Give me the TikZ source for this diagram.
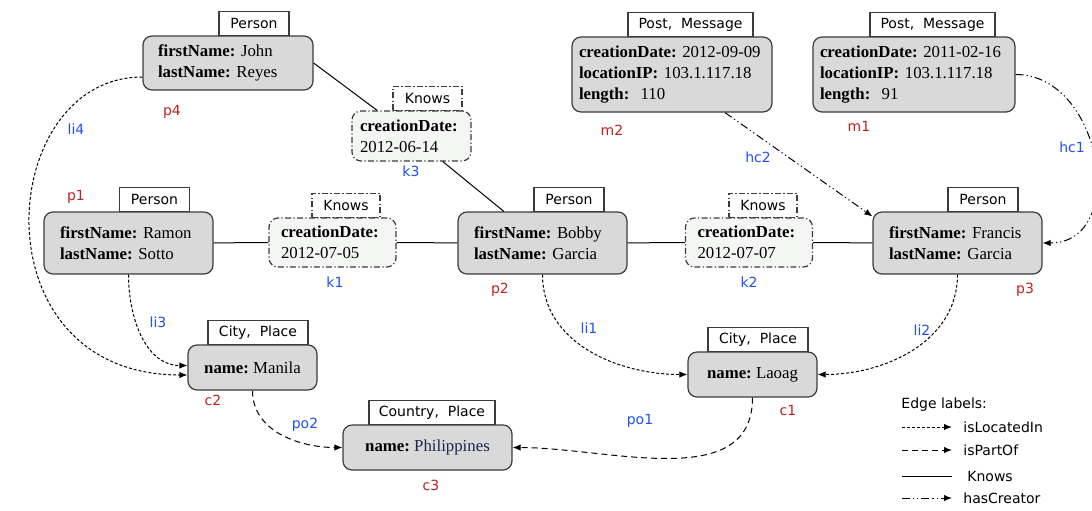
\documentclass[tikz,border=0pt]{standalone}
\usepackage{fontspec}
\setmainfont{Liberation Serif}
\newfontfamily\tagfont{DejaVu Sans}
\usepackage{tikz}
\usetikzlibrary{arrows.meta,calc}
\frenchspacing
\definecolor{box-gray}{RGB}{217,217,217}
\definecolor{box-line}{RGB}{60,60,60}
\definecolor{knows-fill}{RGB}{244,246,244}
\definecolor{id-red}{RGB}{190,32,32}
\definecolor{id-blue}{RGB}{32,80,240}
\definecolor{navy-text}{RGB}{30,35,80}
\tikzstyle{entity}=[draw=box-line, fill=box-gray, rounded corners=4.5pt, line width=.6pt, font=\fontsize{8.4}{10.5}\selectfont, align=left, inner ysep=0pt]
\tikzstyle{relation}=[entity, fill=knows-fill, dash pattern=on 3pt off 1.2pt on .6pt off 1.2pt]
\tikzstyle{place}=[entity, align=center, minimum width=64.5pt, minimum height=22.5pt]
\tikzstyle{tagbox}=[draw=box-line, fill=white, line width=.6pt, font=\tagfont\fontsize{7}{8}\selectfont, minimum height=12pt, inner sep=0pt, anchor=south]
\tikzstyle{reltag}=[tagbox, dash pattern=on 3pt off 1.2pt on .6pt off 1.2pt]
\tikzstyle{idred}=[text=id-red, font=\tagfont\fontsize{7}{8}\selectfont]
\tikzstyle{idblue}=[text=id-blue, font=\tagfont\fontsize{7}{8}\selectfont]
\tikzstyle{legendtext}=[font=\tagfont\fontsize{7}{8}\selectfont, anchor=west, inner sep=0pt]
\tikzstyle{located}=[-{Latex[length=4pt,width=3.2pt]}, dash pattern=on 1.5pt off 1pt, line width=.5pt]
\tikzstyle{partof}=[-{Latex[length=4pt,width=3.2pt]}, dash pattern=on 3pt off 2pt, line width=.5pt]
\tikzstyle{knows}=[line width=.5pt]
\tikzstyle{creator}=[-{Latex[length=4pt,width=3.2pt]}, dash pattern=on 4pt off 1.5pt on .6pt off 1.5pt on .6pt off 1.5pt, line width=.5pt]

\begin{document}
\begin{tikzpicture}[x=.5pt, y=-.5pt]
	\useasboundingbox (0,0) rectangle (1092,510);
	% persons
	\node[entity, text width=70pt, inner xsep=7.5pt, minimum height=27pt] (p4) at (228,63) {\textbf{firstName:} John\\\textbf{lastName:} Reyes};
	\node[entity, text width=68.5pt, inner xsep=8pt, minimum height=31pt] (p1) at (128.5,243) {\textbf{firstName:} Ramon\\\textbf{lastName:} Sotto};
	\node[entity, text width=68.5pt, inner xsep=8pt, minimum height=31pt] (p2) at (542.5,243) {\textbf{firstName:} Bobby\\\textbf{lastName:} Garcia};
	\node[entity, text width=68.5pt, inner xsep=8pt, minimum height=31pt] (p3) at (957.5,243) {\textbf{firstName:} Francis\\\textbf{lastName:} Garcia};
	\node[tagbox, minimum width=35pt] (p4t) at (254,36) {Person};
	\node[tagbox, minimum width=35pt] (p1t) at (154.5,212) {Person};
	\node[tagbox, minimum width=35pt] (p2t) at (569,212) {Person};
	\node[tagbox, minimum width=35pt] (p3t) at (983,212) {Person};
	% knows
	\node[relation, text width=51.5pt, inner xsep=4pt, minimum height=25pt] (k3) at (411.5,136) {\textbf{creationDate:}\\2012-06-14};
	\node[relation, text width=51.5pt, inner xsep=6pt, minimum height=24.5pt] (k1) at (332.5,242.5) {\textbf{creationDate:}\\2012-07-05};
	\node[relation, text width=51.5pt, inner xsep=6pt, minimum height=24.5pt] (k2) at (749,242.5) {\textbf{creationDate:}\\2012-07-07};
	\node[reltag, minimum width=34.5pt] (k3t) at (427.5,111) {Knows};
	\node[reltag, minimum width=34pt] (k1t) at (346,218) {Knows};
	\node[reltag, minimum width=34pt] (k2t) at (763,218) {Knows};
	% posts
	\node[entity, text width=93pt, inner xsep=3.5pt, minimum height=37.5pt] (m2) at (672,74.5) {\textbf{creationDate:} 2012-09-09\\\textbf{locationIP:} 103.1.117.18\\\textbf{length:}~ 110};
	\node[entity, text width=94pt, inner xsep=3.5pt, minimum height=37.5pt] (m1) at (914,74.5) {\textbf{creationDate:} 2011-02-16\\\textbf{locationIP:} 103.1.117.18\\\textbf{length:}~ 91};
	\node[tagbox, minimum width=62.5pt] (m2t) at (690.5,37) {Post,~ Message};
	\node[tagbox, minimum width=62.5pt] (m1t) at (932.5,37) {Post,~ Message};
	% places
	\node[place] (c2) at (252.5,367.5) {\textbf{name:} Manila};
	\node[place] (c1) at (752.5,374.5) {\textbf{name:} Laoag};
	\node[place, minimum width=84.5pt] (c3) at (427.5,447.5) {\textbf{name:} \textcolor{navy-text}{Philippines}};
	\node[tagbox, minimum width=50pt] (c2t) at (258,345) {City,~ Place};
	\node[tagbox, minimum width=50pt] (c1t) at (758,352) {City,~ Place};
	\node[tagbox, minimum width=63pt] (c3t) at (432,425) {Country,~ Place};
	% ids
	\node[idred] (p4l) at (172,112) {p4};
	\node[idred] (p1l) at (76,197) {p1};
	\node[idred] (p2l) at (500,290) {p2};
	\node[idred] (p3l) at (1025,290) {p3};
	\node[idred] (m2l) at (612,130) {m2};
	\node[idred] (m1l) at (859,126) {m1};
	\node[idred] (c2l) at (213,400) {c2};
	\node[idred] (c1l) at (788,410) {c1};
	\node[idred] (c3l) at (431,485) {c3};
	\node[idblue] (k3l) at (411,171) {k3};
	\node[idblue] (k1l) at (335,282) {k1};
	\node[idblue] (k2l) at (749,282) {k2};
	\node[idblue] (li4l) at (76,129) {li4};
	\node[idblue] (li3l) at (158,322) {li3};
	\node[idblue] (li1l) at (589,328) {li1};
	\node[idblue] (li2l) at (922,330) {li2};
	\node[idblue] (po2l) at (305,425) {po2};
	\node[idblue] (po1l) at (640,421) {po1};
	\node[idblue] (hc2l) at (758,157) {hc2};
	\node[idblue] (hc1l) at (1072,147) {hc1};
	% edges
	\draw[knows] (p4.east) -- (k3);
	\draw[knows] (k3) -- (p2);
	\draw[knows] (p1) -- (k1);
	\draw[knows] (k1) -- (p2);
	\draw[knows] (p2) -- (k2);
	\draw[knows] (k2) -- (p3);
	\draw[located] ([yshift=-7pt]p4.west) .. controls (-5,77) and (-25,375) .. ([yshift=-3.75pt]c2.west);
	\draw[located] (p1.south) to[out=-90,in=180] ([yshift=1pt]c2.west);
	\draw[located] (p2.south) to[out=-90,in=180] (c1.west);
	\draw[located] (p3.south) to[out=-90,in=0] (c1.east);
	\draw[partof] (c2.south) to[out=-90,in=180] (c3.west);
	\draw[partof] (c1.south) to[out=-90,in=0] (c3.east);
	\draw[creator] ([xshift=26.5pt]m2.south) -- ([yshift=-2.5pt]p3.north west);
	\draw[creator] (m1.east) to[out=0,in=0,looseness=1.3] (p3.east);
	% legend
	\node[legendtext] (lgt) at (901,405) {Edge labels:};
	\node[legendtext] (lg1) at (963,427) {isLocatedIn};
	\node[legendtext] (lg2) at (963,450) {isPartOf};
	\node[legendtext] (lg3) at (967,476) {Knows};
	\node[legendtext] (lg4) at (963,498) {hasCreator};
	\draw[located] ([xshift=-30.5pt]lg1.west) -- ([xshift=-5.5pt]lg1.west);
	\draw[partof] ([xshift=-30.5pt]lg2.west) -- ([xshift=-5.5pt]lg2.west);
	\draw[knows] ([xshift=-32.5pt]lg3.west) -- ([xshift=-7.5pt]lg3.west);
	\draw[creator] ([xshift=-30.5pt]lg4.west) -- ([xshift=-5.5pt]lg4.west);
\end{tikzpicture}
\end{document}
